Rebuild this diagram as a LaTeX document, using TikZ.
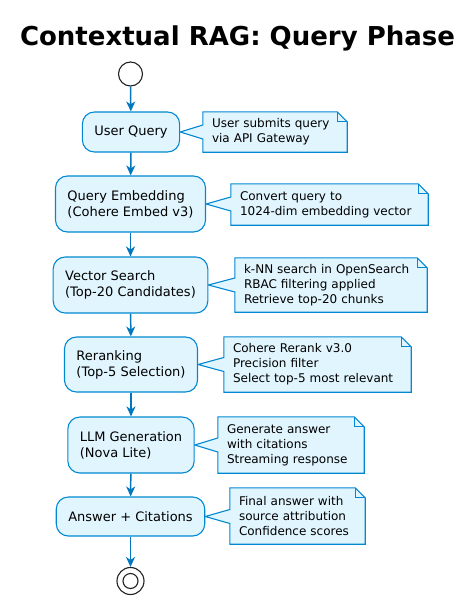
\documentclass[tikz,border=0pt]{standalone}
\usepackage{fontspec}
\setmainfont{DejaVu Sans}
\usetikzlibrary{arrows.meta,calc}
\pgfdeclarelayer{background}
\pgfsetlayers{background,main}
\definecolor{boxfill}{HTML}{E1F5FE}
\definecolor{boxline}{HTML}{0288D1}
\definecolor{arrowblue}{HTML}{0277BD}
\definecolor{ringgray}{HTML}{222222}
\tikzset{
  actbox/.style={draw=boxline, fill=boxfill, line width=1.1pt, rounded corners=12pt,
    align=left, inner xsep=12pt, inner ysep=0pt,
    font=\fontsize{13pt}{16pt}\selectfont},
  notetext/.style={inner xsep=9pt, inner ysep=0pt, align=left,
    font=\fontsize{12pt}{15pt}\selectfont},
  noteshape/.style={draw=boxline, fill=boxfill, line width=1.1pt, line join=miter},
  flow/.style={draw=arrowblue, line width=1.5pt,
    -{Stealth[length=10pt,width=9pt,inset=3pt]}},
  startdot/.style={circle, draw=ringgray, fill=white, line width=1.1pt, minimum size=24pt, inner sep=0pt},
  enddot/.style={circle, draw=ringgray, fill=white, line width=1.1pt, minimum size=27pt, inner sep=0pt},
  endinner/.style={circle, draw=ringgray, fill=white, line width=1.1pt, minimum size=15pt, inner sep=0pt},
  titletext/.style={font=\fontsize{26pt}{30pt}\selectfont\bfseries}
}
\newcommand{\notepoly}[2]{%
  \path[noteshape] (#2.south west)
    -- ($(#2.west|-#1.east)+(0pt,-7pt)$)
    -- (#1.east)
    -- ($(#2.west|-#1.east)+(0pt,7pt)$)
    -- (#2.north west)
    -- ($(#2.north east)+(-10pt,0pt)$)
    -- ($(#2.north east)+(0pt,-10pt)$)
    -- (#2.south east) -- cycle;
  \draw[boxline, line width=1.1pt] ($(#2.north east)+(-10pt,0pt)$)
    -- ($(#2.north east)+(-10pt,-10pt)$) -- ($(#2.north east)+(0pt,-10pt)$);
}
\begin{document}
\begin{tikzpicture}[x=1pt,y=-1pt]
\useasboundingbox (0,0) rectangle (476,600);

\node[titletext, anchor=base] (title) at (237.5,45) {Contextual RAG: Query Phase};

\node[startdot] (start) at (130.5,74) {};

\node[actbox, minimum height=40pt] (q1) at (131,132) {User Query};
\node[actbox, minimum height=56pt] (q2) at (130.5,204) {Query Embedding\\(Cohere Embed v3)};
\node[actbox, minimum height=56pt] (q3) at (130.5,285) {Vector Search\\(Top-20 Candidates)};
\node[actbox, minimum height=55pt] (q4) at (131,364.5) {Reranking\\(Top-5 Selection)};
\node[actbox, minimum height=56pt] (q5) at (131,445) {LLM Generation\\(Nova Lite)};
\node[actbox, minimum height=39pt] (q6) at (130.5,516.5) {Answer + Citations};

\node[enddot] (stop) at (130.5,581) {};
\node[endinner] (stopin) at (130.5,581) {};

\node[notetext, minimum width=144pt, minimum height=40pt, text width=126pt] (n1) at (275,132)
  {User submits query\\via API Gateway};
\node[notetext, minimum width=197pt, minimum height=41pt, text width=179pt] (n2) at (329.5,204.5)
  {Convert query to\\1024-dim embedding vector};
\node[notetext, minimum width=192pt, minimum height=54pt, text width=174pt] (n3) at (331,285)
  {k-NN search in OpenSearch\\RBAC filtering applied\\Retrieve top-20 chunks};
\node[notetext, minimum width=187pt, minimum height=55pt, text width=169pt] (n4) at (317.5,364.5)
  {Cohere Rerank v3.0\\Precision filter\\Select top-5 most relevant};
\node[notetext, minimum width=146pt, minimum height=56pt, text width=128pt] (n5) at (291,445)
  {Generate answer\\with citations\\Streaming response};
\node[notetext, minimum width=135pt, minimum height=56pt, text width=117pt] (n6) at (297.5,516)
  {Final answer with\\source attribution\\Confidence scores};

\begin{pgfonlayer}{background}
\notepoly{q1}{n1}
\notepoly{q2}{n2}
\notepoly{q3}{n3}
\notepoly{q4}{n4}
\notepoly{q5}{n5}
\notepoly{q6}{n6}
\end{pgfonlayer}

\draw[flow] (start) -- (q1);
\draw[flow] (q1) -- (q2);
\draw[flow] (q2) -- (q3);
\draw[flow] (q3) -- (q4);
\draw[flow] (q4) -- (q5);
\draw[flow] (q5) -- (q6);
\draw[flow] (q6) -- (stop);
\end{tikzpicture}
\end{document}
